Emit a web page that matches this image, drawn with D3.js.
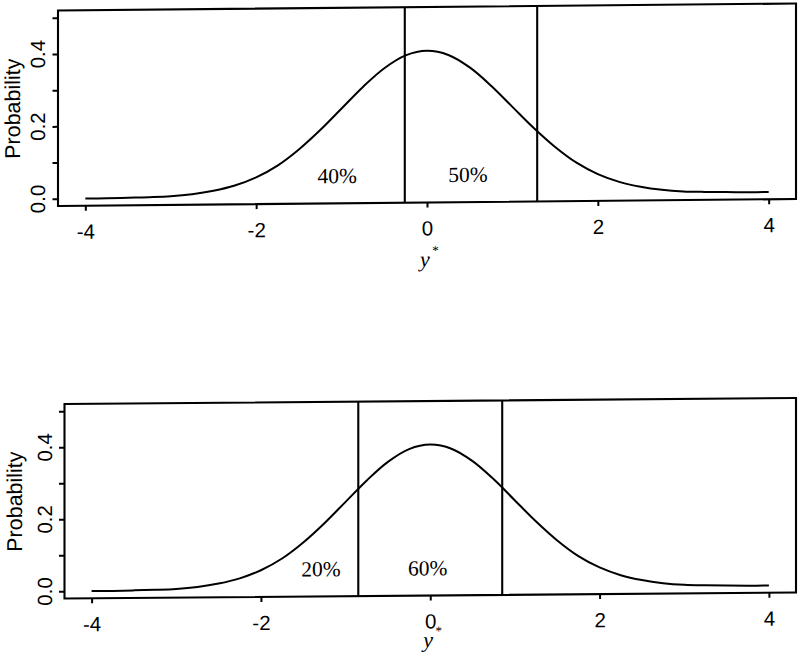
<!DOCTYPE html>
<html><head><meta charset="utf-8">
<script src="https://cdn.jsdelivr.net/npm/d3@7/dist/d3.min.js"></script>
<style>body{margin:0;background:#fff}svg{display:block}</style>
</head><body>
<svg id="c" width="800" height="664"></svg>
<script>
// ---- data ----
const curveX = [-4,-3.75,-3.5,-3.25,-3,-2.75,-2.5,-2.25,-2,-1.75,-1.5,-1.25,-1,-0.75,-0.5,-0.25,0,
                0.25,0.5,0.75,1,1.25,1.5,1.75,2,2.25,2.5,2.75,3,3.25,3.5,3.75,4];
const curveY = [0.000,0.000,0.001,0.002,0.004,0.009,0.018,0.032,0.054,0.086,0.130,0.183,0.242,0.301,0.352,0.387,0.399,
                0.387,0.352,0.301,0.242,0.183,0.130,0.086,0.054,0.032,0.018,0.009,0.004,0.002,0.001,0.000,0.000];
const xRange = [-4, 4];
const yRange = [0, 0.5];
const xTicks = [-4, -2, 0, 2, 4];
const yTicks = [0, 0.1, 0.2, 0.3, 0.4, 0.5];
const yLabelValues = [0, 0.2, 0.4];
const yLabelTexts = ["0.0", "0.2", "0.4"];
const cutsTop = [-0.26, 1.29];
const cutsBottom = [-0.85, 0.85];
const pctTop = ["40%", "50%"];
const pctTopX = [-1.05, 0.48];
const pctBottom = ["20%", "60%"];
const pctBottomX = [-1.29, -0.03];
const pctY = 0.036;
const yTitle = "Probability";
const xTitle = "y";
const xTitleSup = "*";

// ---- layout ----
const panels = [
  {left:58, right:796, top:10.5, bottom:206, skew:-0.00946, titleX:20, tickLabX:45, xTitleDy:64.3,
   cuts:cutsTop, pct:pctTop, pctX:pctTopX},
  {left:64.5, right:796, top:404, bottom:598.5, skew:-0.0082, titleX:22, tickLabX:52, xTitleDy:51.8,
   cuts:cutsBottom, pct:pctBottom, pctX:pctBottomX}
];

const svg = d3.select("#c");
const pts = curveX.map((x, i) => [x, curveY[i]]);
const pad = (r) => { const d = (r[1]-r[0])*0.04; return [r[0]-d, r[1]+d]; };
const SANS = "Liberation Sans, Arial, Helvetica, sans-serif";
const SERIF = "Liberation Serif, Times New Roman, serif";

panels.forEach(p => {
  const ox = p.left;
  const deg = Math.atan(p.skew) * 180 / Math.PI;
  const g = svg.append("g")
    .attr("transform", `translate(0,${-p.skew*ox}) skewY(${deg})`);

  const x = d3.scaleLinear().domain(pad(xRange)).range([p.left, p.right]);
  const y = d3.scaleLinear().domain(pad(yRange)).range([p.bottom, p.top]);

  // box
  g.append("rect")
    .attr("x", x.range()[0]).attr("y", y.range()[1])
    .attr("width", x.range()[1]-x.range()[0]).attr("height", y.range()[0]-y.range()[1])
    .attr("fill", "none").attr("stroke", "#000").attr("stroke-width", 2.1);

  // curve
  g.append("path").datum(pts)
    .attr("fill", "none").attr("stroke", "#000").attr("stroke-width", 2)
    .attr("d", d3.line().x(d => x(d[0])).y(d => y(d[1])).curve(d3.curveCatmullRom.alpha(0.5)));

  // cut lines
  g.selectAll("line.cut").data(p.cuts).enter().append("line")
    .attr("class", "cut")
    .attr("x1", d => x(d)).attr("x2", d => x(d))
    .attr("y1", y.range()[0]).attr("y2", y.range()[1])
    .attr("stroke", "#000").attr("stroke-width", 2.1);

  // percentage labels
  g.selectAll("text.pct").data(p.pct).enter().append("text")
    .attr("class", "pct")
    .attr("x", (d, i) => x(p.pctX[i])).attr("y", y(pctY))
    .attr("text-anchor", "middle")
    .attr("font-family", SERIF)
    .attr("font-size", 21.5).attr("fill", "#000")
    .text(d => d);

  // x axis
  const xa = g.append("g").attr("transform", `translate(0,${p.bottom})`)
    .call(d3.axisBottom(x).tickValues(xTicks).tickSize(5).tickPadding(13.5).tickFormat(d3.format("d")));
  xa.select(".domain").remove();
  xa.selectAll(".tick line").attr("stroke", "#000").attr("stroke-width", 2);
  xa.selectAll(".tick text")
    .attr("font-family", SANS).attr("font-size", 20.5).attr("fill", "#000")
    .text(d => d < 0 ? "-" + Math.abs(d) : d);

  // y axis ticks
  const ya = g.append("g").attr("transform", `translate(${p.left - 0.5},0)`)
    .call(d3.axisLeft(y).tickValues(yTicks).tickSize(5).tickFormat(""));
  ya.select(".domain").remove();
  ya.selectAll(".tick line").attr("stroke", "#000").attr("stroke-width", 2);

  // y tick labels (rotated, parallel to axis)
  g.selectAll("text.ylab").data(yLabelValues).enter().append("text")
    .attr("class", "ylab")
    .attr("transform", d => `translate(${p.tickLabX},${y(d)}) rotate(-90)`)
    .attr("text-anchor", "middle")
    .attr("font-family", SANS).attr("font-size", 20.5).attr("fill", "#000")
    .text((d, i) => yLabelTexts[i]);

  // y title
  g.append("text")
    .attr("transform", `translate(${p.titleX},${(p.top + p.bottom)/2}) rotate(-90)`)
    .attr("text-anchor", "middle")
    .attr("font-family", SANS).attr("font-size", 21.5).attr("fill", "#000")
    .text(yTitle);

  // x title  y*
  g.append("text")
    .attr("x", x(0) - 2).attr("y", p.bottom + p.xTitleDy)
    .attr("text-anchor", "middle")
    .attr("font-family", SERIF).attr("font-style", "italic").attr("font-size", 22).attr("fill", "#000")
    .text(xTitle);
  g.append("text")
    .attr("x", x(0) + 8.5).attr("y", p.bottom + p.xTitleDy - 12)
    .attr("text-anchor", "middle")
    .attr("font-family", SERIF).attr("font-size", 13).attr("fill", "#000")
    .text(xTitleSup);
});
</script>
</body></html>
